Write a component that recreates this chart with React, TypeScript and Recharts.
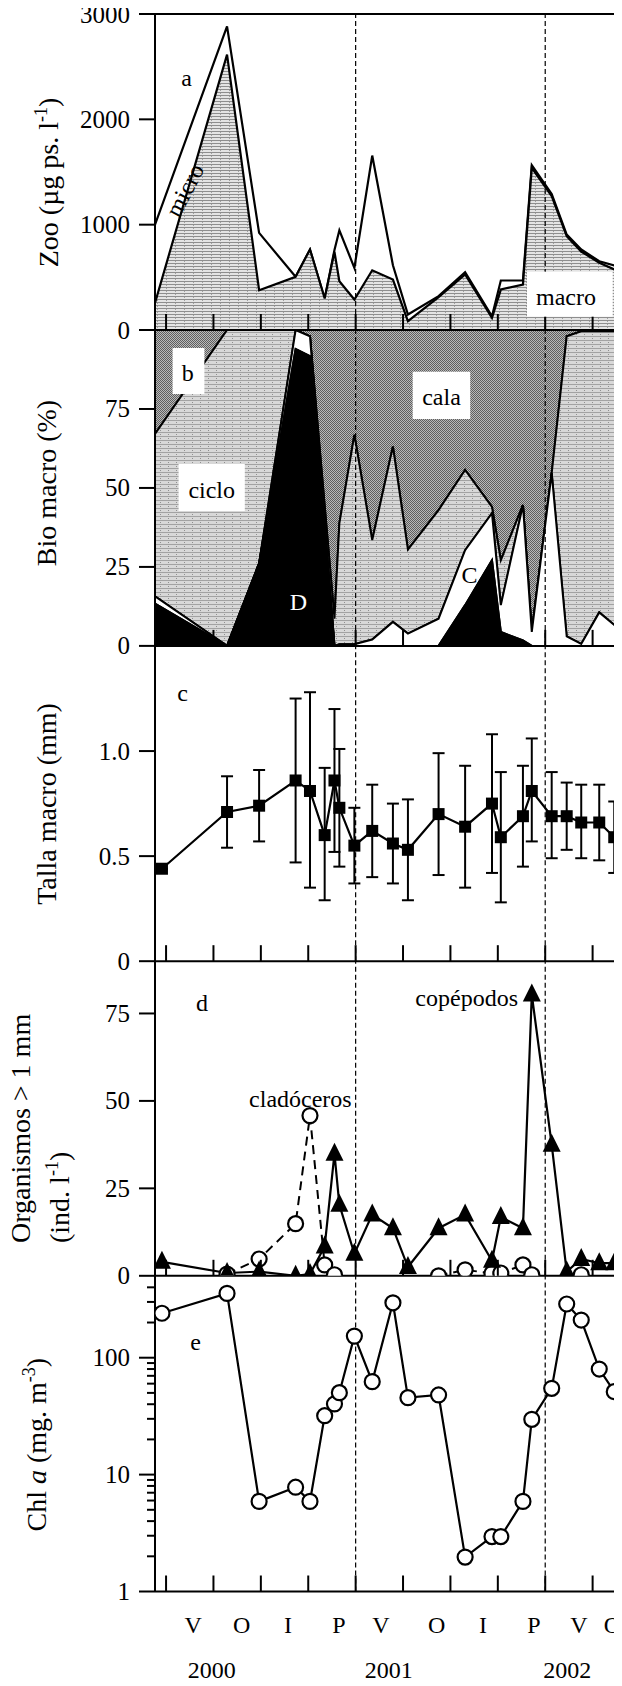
import React from "react"
import { ComposedChart, Area, Line, XAxis, YAxis, ReferenceLine, ErrorBar } from "recharts"

const FONT = "'Liberation Serif', 'Times New Roman', serif"

// sampling dates, months counted from 1 Jan 2000
const sampleMonths = [-0.26, 3.86, 5.89, 8.2, 9.11, 10.04, 10.66, 10.97, 11.92, 13.05, 14.36, 15.31, 17.25, 18.93, 20.63, 21.19, 22.59, 23.15, 24.41, 25.36, 26.28, 27.42, 28.37]

// (a) zooplankton biomass, total and macro (µg ps. l-1)
const zooMonths = [-0.7, 3.86, 5.89, 8.2, 9.11, 10.04, 10.66, 10.97, 11.92, 13.05, 14.36, 15.31, 17.25, 18.93, 20.63, 21.19, 22.59, 23.15, 24.41, 25.36, 26.28, 27.42, 28.37, 28.86]
const zooTotal = [1000, 2882, 922, 505, 764, 299, 760, 947, 590, 1656, 615, 147, 321, 549, 131, 470, 470, 1564, 1290, 906, 764, 653, 612, 590]
const zooMacro = [258, 2614, 378, 505, 764, 299, 742, 463, 289, 567, 479, 84, 312, 528, 116, 384, 432, 1539, 1270, 890, 745, 638, 575, 527]

// (b) macrozooplankton biomass share, cumulative from the bottom (%)
const bioMonths = [-0.7, 3.86, 5.89, 8.2, 9.11, 10.66, 10.97, 11.92, 13.05, 14.36, 15.31, 17.25, 18.93, 20.63, 21.19, 22.59, 23.15, 24.41, 25.36, 26.28, 27.42, 28.37, 28.86]
const bioD = [13.4, 0, 26.1, 94, 91.7, 0, 0, 0, 0, 0, 0, 0, 12.9, 27.1, 4.4, 1.7, 0, 0, 0, 0, 0, 0, 0]
const bioC = [15.7, 0, 26.1, 100, 98, 0, 0.5, 0.5, 2, 7.6, 3.9, 8.6, 30.3, 42, 12.9, 44.6, 4.4, 54.7, 3, 0.6, 10.6, 6.6, 5]
const bioCiclo = [67.1, 100, 100, 100, 98, 8.6, 38.8, 66.8, 33.5, 63.1, 30.5, 43, 55.7, 44, 27.1, 44.6, 4.4, 54.7, 98, 99.6, 99.6, 99.6, 99.6]

// (c) macrozooplankton size (mm), mean with lower and upper bars
const tallaMean = [0.44, 0.71, 0.74, 0.86, 0.81, 0.6, 0.86, 0.73, 0.55, 0.62, 0.56, 0.53, 0.7, 0.64, 0.75, 0.59, 0.69, 0.81, 0.69, 0.69, 0.66, 0.66, 0.59]
const tallaLow = [0.44, 0.54, 0.57, 0.47, 0.35, 0.29, 0.52, 0.45, 0.37, 0.4, 0.37, 0.29, 0.41, 0.35, 0.42, 0.28, 0.45, 0.57, 0.49, 0.53, 0.49, 0.48, 0.42]
const tallaHigh = [0.44, 0.88, 0.91, 1.25, 1.28, 0.92, 1.2, 1.01, 0.73, 0.84, 0.75, 0.77, 0.99, 0.93, 1.08, 0.9, 0.93, 1.06, 0.9, 0.85, 0.84, 0.84, 0.76]

// (d) organisms > 1 mm (ind. l-1)
const copepodos = [4, 0.8, 1.2, 0, 0.5, 8.4, 34.9, 20.3, 6.3, 17.5, 13.6, 2.5, 13.6, 17.5, 4.3, 16.8, 13.6, 80.4, 37.5, 1.2, 4.8, 3.6, 3.6]
const cladoceros = [null, 0.5, 4.8, 14.9, 45.8, 3.1, 0.3, null, null, null, null, null, 0, 1.7, 0.7, 0.8, 3.1, 0.3, null, null, 0.3, null, null]

// (e) chlorophyll a (mg. m-3)
const chlA = [240, 355, 5.9, 7.8, 5.9, 31.9, 40.2, 50.2, 153, 62.4, 295, 45.5, 48, 1.97, 2.95, 2.95, 5.9, 29.7, 54.7, 288, 210, 80, 51.2]

const quarterTicks = [0, 3, 6, 9, 12, 15, 18, 21, 24, 27]
const yearLines = [12, 24]
const seasonTicks = [1.71, 4.79, 7.72, 10.95, 13.6, 17.13, 20.06, 23.29, 26.14, 28.26]
const seasonLabels = ["V", "O", "I", "P", "V", "O", "I", "P", "V", "O"]
const yearTicks = [2.89, 14.1, 25.4]
const yearLabels = ["2000", "2001", "2002"]
const chlTicks = [1, 2, 3, 4, 5, 6, 7, 8, 9, 10, 20, 30, 40, 50, 60, 70, 80, 90, 100, 200, 300, 400]
const chlMajor = [1, 10, 100]

const W = 622
const AXIS_W = 155
const PAD = 14
const X_DOMAIN: [number, number] = [-0.7, 28.86]
const tops = [14.3, 330.3, 646.2, 961.4, 1276.2]
const heights = [316, 315.9, 315.2, 314.8, 315.5]
const labelTicks = [...seasonTicks, ...yearTicks].sort((a, b) => a - b)

const zooData = zooMonths.map((m, i) => ({ m, total: zooTotal[i], macro: zooMacro[i] }))
const bioData = bioMonths.map((m, i) => ({
  m,
  cala: [bioCiclo[i], 100],
  ciclo: [bioC[i], bioCiclo[i]],
  c: [bioD[i], bioC[i]],
  d: bioD[i],
}))
const tallaData = sampleMonths.map((m, i) => ({
  m,
  size: tallaMean[i],
  err: [tallaMean[i] - tallaLow[i], tallaHigh[i] - tallaMean[i]],
}))
const orgData = sampleMonths.map((m, i) => ({ m, cope: copepodos[i], clado: cladoceros[i] }))
const chlData = sampleMonths.map((m, i) => ({ m, chl: chlA[i] }))

const InsideTick = (p: any) => (
  <line x1={p.x} x2={p.x} y1={p.y} y2={p.y - 16} stroke="#000" strokeWidth={2} />
)

// season letters on the first row, years on the second
const LabelTick = (p: any) => {
  const v = p.payload.value
  const s = seasonTicks.indexOf(v)
  const label = s >= 0 ? seasonLabels[s] : yearLabels[yearTicks.indexOf(v)]
  return (
    <text x={p.x} y={p.y + (s >= 0 ? 19.5 : 64)} dominantBaseline="central" textAnchor="middle" fontSize={24} fontFamily={FONT} fill="#000">
      {label}
    </text>
  )
}

const makeYTick = (fmt: (v: number) => string) => (p: any) => (
  <g>
    <line x1={p.x} x2={p.x - 16} y1={p.y} y2={p.y} stroke="#000" strokeWidth={2} />
    <text x={p.x - 25} y={p.y} dominantBaseline="central" textAnchor="end" fontSize={25} fontFamily={FONT} fill="#000">
      {fmt(p.payload.value)}
    </text>
  </g>
)
const plainTick = makeYTick((v) => String(v))
const tallaTick = makeYTick((v) => (v === 0 ? "0" : v.toFixed(1)))

const ChlTick = (p: any) => {
  const v = p.payload.value
  const major = chlMajor.includes(v)
  return (
    <g>
      <line x1={p.x} x2={p.x - (major ? 16 : 8)} y1={p.y} y2={p.y} stroke="#000" strokeWidth={2} />
      {major && (
        <text x={p.x - 25} y={p.y} dominantBaseline="central" textAnchor="end" fontSize={25} fontFamily={FONT} fill="#000">
          {v}
        </text>
      )}
    </g>
  )
}

const squareDot = (p: any) =>
  p.cy == null ? <g key={p.index} /> : <rect key={p.index} x={p.cx - 6} y={p.cy - 6} width={12} height={12} fill="#000" />

const triangleDot = (p: any) =>
  p.cy == null ? (
    <g key={p.index} />
  ) : (
    <polygon key={p.index} points={`${p.cx},${p.cy - 11} ${p.cx - 9},${p.cy + 7} ${p.cx + 9},${p.cy + 7}`} fill="#000" />
  )

const circleDot = (p: any) =>
  p.cy == null ? <g key={p.index} /> : <circle key={p.index} cx={p.cx} cy={p.cy} r={7.5} fill="#fff" stroke="#000" strokeWidth={2.2} />

const axisLine = { stroke: "#000", strokeWidth: 2 }

function xAxis() {
  return (
    <XAxis
      dataKey="m"
      type="number"
      domain={X_DOMAIN}
      ticks={quarterTicks}
      interval={0}
      allowDataOverflow
      tick={InsideTick}
      tickSize={0}
      tickMargin={0}
      tickLine={false}
      axisLine={axisLine}
      height={PAD}
    />
  )
}

function yAxis(domain: [number, number], ticks: number[], tick: any) {
  return (
    <YAxis width={AXIS_W} domain={domain} ticks={ticks} interval={0} allowDataOverflow tickSize={0} tickMargin={0} tickLine={false} axisLine={axisLine} tick={tick} />
  )
}

function yearRefs() {
  return yearLines.map((x) => (
    <ReferenceLine key={x} x={x} stroke="#000" strokeWidth={1.2} strokeDasharray="5 3" />
  ))
}

export default function App() {
  const pos = (i: number) => ({ position: "absolute" as const, left: 0, top: tops[i] - PAD })
  return (
    <div style={{ position: "relative", width: W, height: 1686, margin: "-8px 0 -8px -8px", overflow: "hidden", fontFamily: FONT }}>
      <svg width={0} height={0} style={{ position: "absolute" }}>
        <defs>
          <pattern id="hatchMacro" width={9} height={3} patternUnits="userSpaceOnUse">
            <rect width={9} height={3} fill="#e4e4e4" />
            <rect y={2} width={9} height={1} fill="#8e8e8e" />
            <rect x={4} width={1} height={1} fill="#a0a0a0" />
          </pattern>
          <pattern id="hatchCiclo" width={8} height={4} patternUnits="userSpaceOnUse">
            <rect width={8} height={4} fill="#d8d8d8" />
            <rect width={8} height={1} fill="#a2a2a2" />
            <rect x={0} y={2} width={1} height={1} fill="#8e8e8e" />
          </pattern>
          <pattern id="dotsCala" width={2} height={2} patternUnits="userSpaceOnUse">
            <rect width={2} height={2} fill="#bababa" />
            <rect width={1} height={1} fill="#5e5e5e" />
            <rect x={1} y={1} width={1} height={1} fill="#5e5e5e" />
          </pattern>
        </defs>
      </svg>

      {/* a: zooplankton biomass */}
      <div style={pos(0)}>
        <ComposedChart width={W} height={heights[0] + 2 * PAD} data={zooData} margin={{ top: PAD, right: 0, bottom: 0, left: 0 }}>
          {xAxis()}
          {yAxis([0, 3000], [0, 1000, 2000, 3000], plainTick)}
          <Area dataKey="total" type="linear" fill="#fff" fillOpacity={1} stroke="#000" strokeWidth={2.2} dot={false} activeDot={false} isAnimationActive={false} />
          <Area dataKey="macro" type="linear" fill="url(#hatchMacro)" fillOpacity={1} stroke="#000" strokeWidth={2.2} dot={false} activeDot={false} isAnimationActive={false} />
          <ReferenceLine y={3000} stroke="#000" strokeWidth={2} />
          {yearRefs()}
        </ComposedChart>
      </div>

      {/* b: share of macrozooplankton biomass */}
      <div style={pos(1)}>
        <ComposedChart width={W} height={heights[1] + 2 * PAD} data={bioData} margin={{ top: PAD, right: 0, bottom: 0, left: 0 }}>
          {xAxis()}
          {yAxis([0, 100], [0, 25, 50, 75], plainTick)}
          <Area dataKey="cala" type="linear" fill="url(#dotsCala)" fillOpacity={1} stroke="#000" strokeWidth={2} dot={false} activeDot={false} isAnimationActive={false} />
          <Area dataKey="ciclo" type="linear" fill="url(#hatchCiclo)" fillOpacity={1} stroke="#000" strokeWidth={2} dot={false} activeDot={false} isAnimationActive={false} />
          <Area dataKey="c" type="linear" fill="#fff" fillOpacity={1} stroke="#000" strokeWidth={2} dot={false} activeDot={false} isAnimationActive={false} />
          <Area dataKey="d" type="linear" fill="#000" fillOpacity={1} stroke="#000" strokeWidth={2} dot={false} activeDot={false} isAnimationActive={false} />
          {yearRefs()}
        </ComposedChart>
      </div>

      {/* c: macrozooplankton size */}
      <div style={pos(2)}>
        <ComposedChart width={W} height={heights[2] + 2 * PAD} data={tallaData} margin={{ top: PAD, right: 0, bottom: 0, left: 0 }}>
          {xAxis()}
          {yAxis([0, 1.5], [0, 0.5, 1], tallaTick)}
          {yearRefs()}
          <Line dataKey="size" type="linear" stroke="#000" strokeWidth={2.2} dot={squareDot} activeDot={false} isAnimationActive={false}>
            <ErrorBar dataKey="err" direction="y" width={6} stroke="#000" strokeWidth={2} isAnimationActive={false} />
          </Line>
        </ComposedChart>
      </div>

      {/* d: organisms larger than 1 mm */}
      <div style={pos(3)}>
        <ComposedChart width={W} height={heights[3] + 2 * PAD} data={orgData} margin={{ top: PAD, right: 0, bottom: 0, left: 0 }}>
          {xAxis()}
          {yAxis([0, 90], [0, 25, 50, 75], plainTick)}
          {yearRefs()}
          <Line dataKey="clado" type="linear" stroke="#000" strokeWidth={2} strokeDasharray="9 6" dot={circleDot} activeDot={false} connectNulls={false} isAnimationActive={false} />
          <Line dataKey="cope" type="linear" stroke="#000" strokeWidth={2.2} dot={triangleDot} activeDot={false} isAnimationActive={false} />
        </ComposedChart>
      </div>

      {/* e: chlorophyll a */}
      <div style={pos(4)}>
        <ComposedChart width={W} height={heights[4] + 2 * PAD + 80} data={chlData} margin={{ top: PAD, right: 0, bottom: 0, left: 0 }}>
          {xAxis()}
          <XAxis xAxisId="labels" dataKey="m" type="number" domain={X_DOMAIN} ticks={labelTicks} interval={0} allowDataOverflow tick={LabelTick} tickSize={0} tickMargin={0} tickLine={false} axisLine={false} height={80} />
          <YAxis width={AXIS_W} scale="log" domain={[1, 500]} ticks={chlTicks} interval={0} allowDataOverflow tickSize={0} tickMargin={0} tickLine={false} axisLine={axisLine} tick={ChlTick} />
          {yearRefs()}
          <Line dataKey="chl" type="linear" stroke="#000" strokeWidth={2.2} dot={circleDot} activeDot={false} isAnimationActive={false} />
        </ComposedChart>
      </div>

      {/* titles and annotations */}
      <svg width={W} height={1686} style={{ position: "absolute", left: 0, top: 0, pointerEvents: "none" }} fontFamily={FONT} fill="#000">
        <text transform="rotate(-90 57.5 182.5)" x={57.5} y={182.5} textAnchor="middle" fontSize={28}>
          Zoo (µg ps. l<tspan dy={-11} fontSize={18}>-1</tspan><tspan dy={11}>)</tspan>
        </text>
        <text transform="rotate(-90 55.5 483)" x={55.5} y={483} textAnchor="middle" fontSize={28}>Bio macro (%)</text>
        <text transform="rotate(-90 55.5 804)" x={55.5} y={804} textAnchor="middle" fontSize={28}>Talla macro (mm)</text>
        <text transform="rotate(-90 29.7 1243)" x={29.7} y={1243} textAnchor="start" fontSize={28}>Organismos &gt; 1 mm</text>
        <text transform="rotate(-90 69.4 1243)" x={69.4} y={1243} textAnchor="start" fontSize={28}>
          (ind. l<tspan dy={-11} fontSize={18}>-1</tspan><tspan dy={11}>)</tspan>
        </text>
        <text transform="rotate(-90 45.6 1444.7)" x={45.6} y={1444.7} textAnchor="middle" fontSize={28}>
          Chl <tspan fontStyle="italic">a</tspan> (mg. m<tspan dy={-11} fontSize={18}>-3</tspan><tspan dy={11}>)</tspan>
        </text>

        <text x={186.5} y={77.7} dy="0.35em" textAnchor="middle" fontSize={24}>a</text>
        <text transform="rotate(-62.5 184.5 190)" x={184.5} y={190} dy="0.35em" textAnchor="middle" fontSize={24}>micro</text>
        <rect x={527} y={271.7} width={85.7} height={45} fill="#fff" />
        <text x={566} y={296.7} dy="0.35em" textAnchor="middle" fontSize={24}>macro</text>

        <rect x={172.6} y={348} width={31.8} height={46} fill="#fff" />
        <text x={187.7} y={372.7} dy="0.35em" textAnchor="middle" fontSize={24}>b</text>
        <rect x={412.7} y={371.7} width={57.5} height={47.3} fill="#fff" />
        <text x={441.5} y={397} dy="0.35em" textAnchor="middle" fontSize={24}>cala</text>
        <rect x={178.6} y={464} width={66.2} height={47} fill="#fff" />
        <text x={211.7} y={490} dy="0.35em" textAnchor="middle" fontSize={24}>ciclo</text>
        <text x={298.4} y={602} dy="0.35em" textAnchor="middle" fontSize={24} fill="#fff">D</text>
        <text x={469.4} y={575} dy="0.35em" textAnchor="middle" fontSize={24}>C</text>

        <text x={182.5} y={693} dy="0.35em" textAnchor="middle" fontSize={24}>c</text>

        <text x={202} y={1003} dy="0.35em" textAnchor="middle" fontSize={24}>d</text>
        <text x={518} y={997.7} dy="0.35em" textAnchor="end" fontSize={24}>copépodos</text>
        <text x={300.4} y={1099} dy="0.35em" textAnchor="middle" fontSize={24}>cladóceros</text>

        <text x={195.6} y={1341.7} dy="0.35em" textAnchor="middle" fontSize={24}>e</text>
      </svg>
    </div>
  )
}
